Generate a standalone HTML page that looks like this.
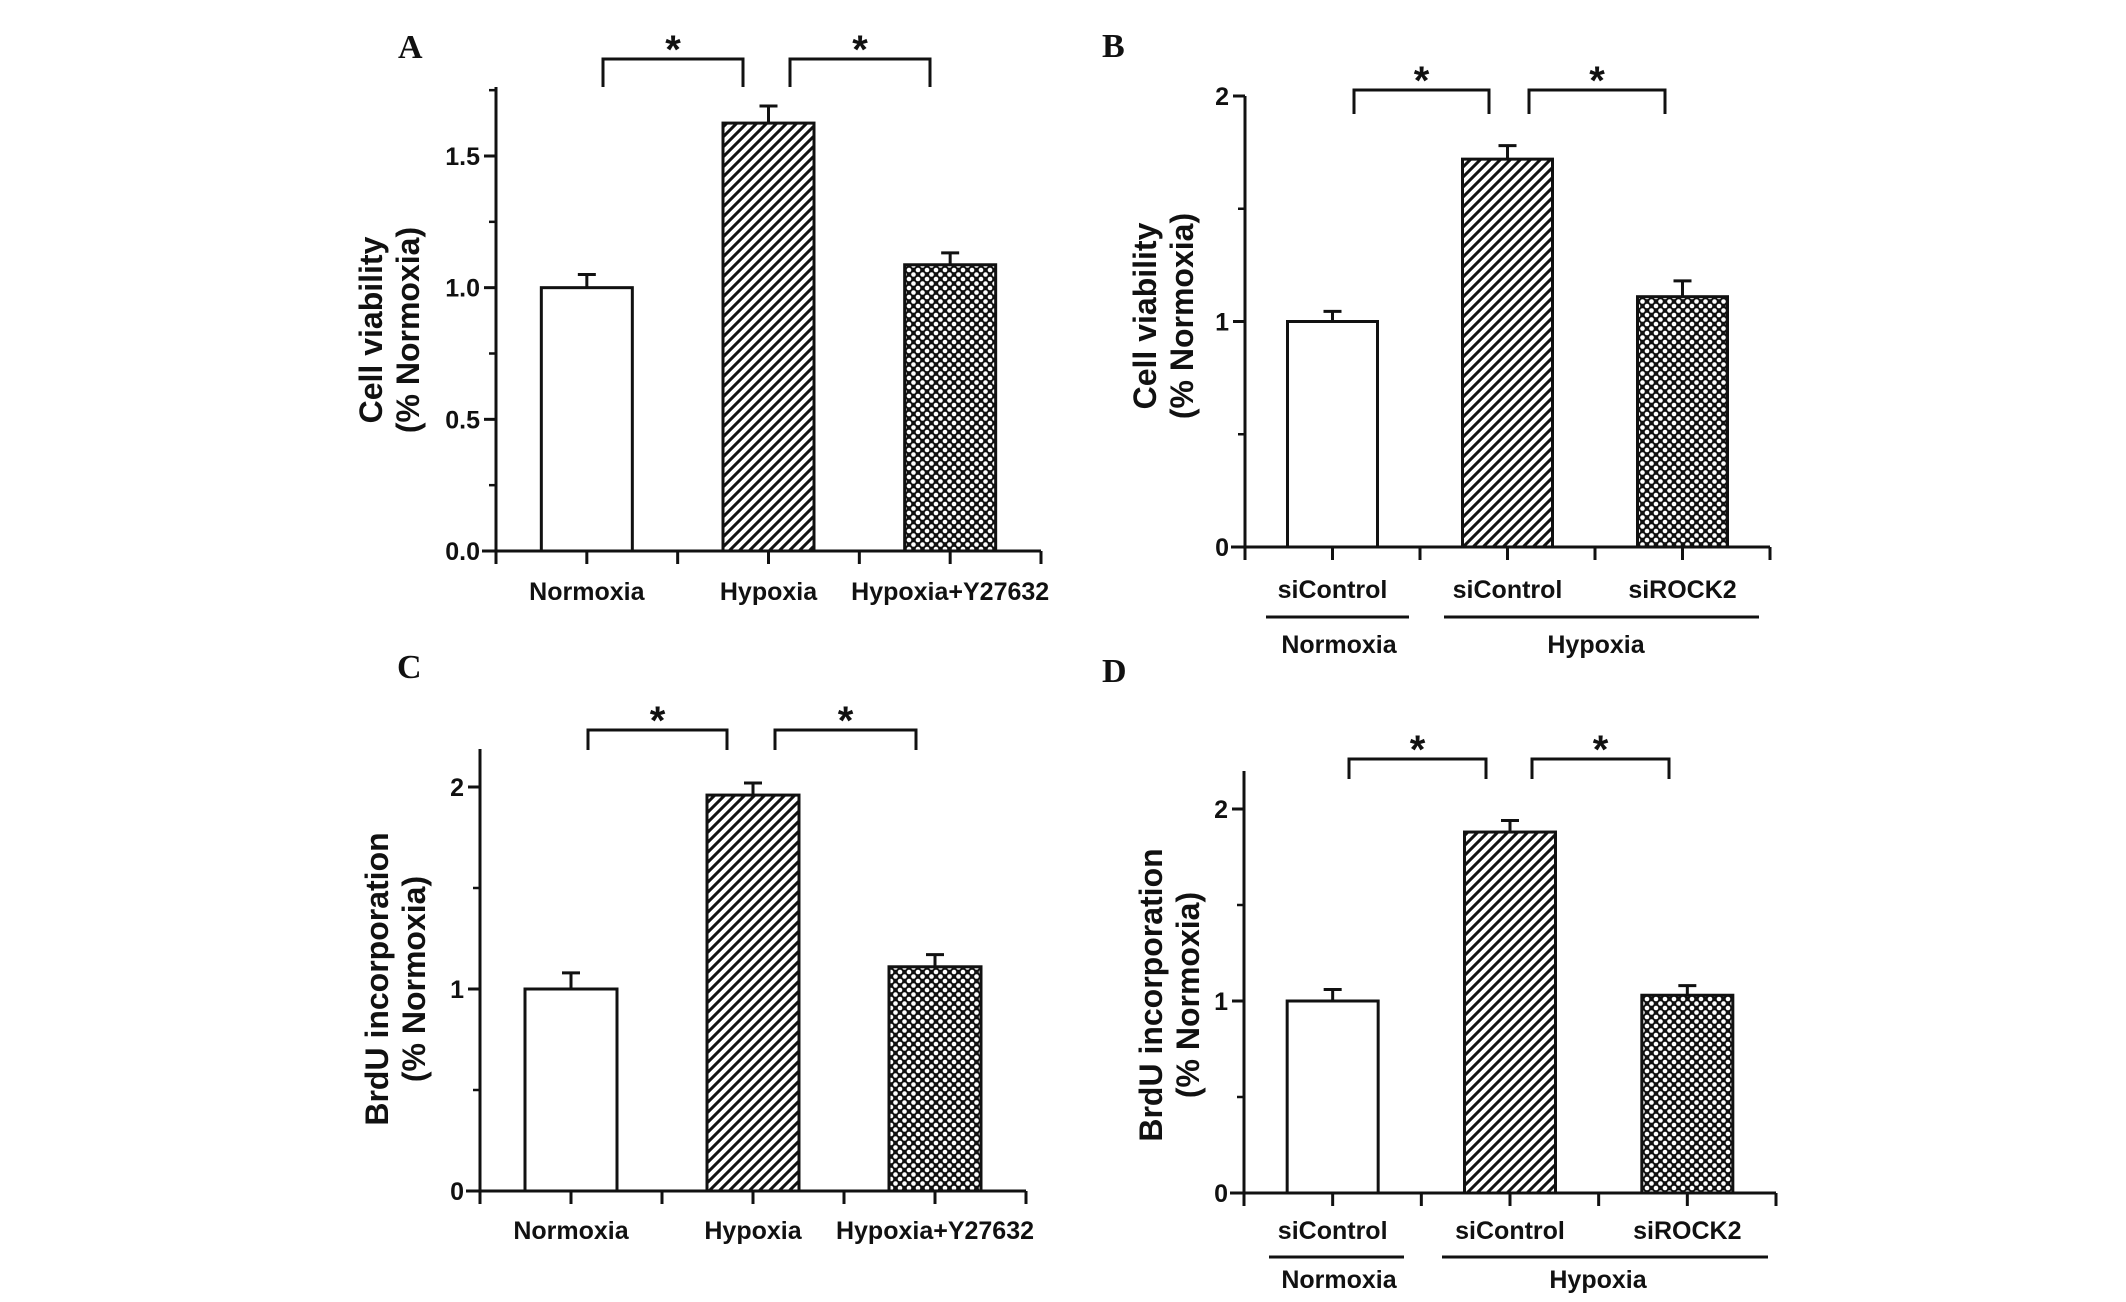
<!DOCTYPE html>
<html><head><meta charset="utf-8"><style>
html,body{margin:0;padding:0;background:#fff;}
svg{display:block;}
.tk{font-family:"Liberation Sans Narrow","Liberation Sans",sans-serif;font-weight:bold;font-size:25px;fill:#111;}
.yt{font-family:"Liberation Sans",sans-serif;font-weight:bold;font-size:32px;fill:#111;}
.ast{font-family:"Liberation Sans",sans-serif;font-weight:bold;font-size:40px;fill:#111;}
.pl{font-family:"Liberation Serif",serif;font-weight:bold;font-size:34px;fill:#111;}
</style></head><body>
<svg id="fig" width="2126" height="1302" viewBox="0 0 2126 1302" xmlns="http://www.w3.org/2000/svg">
<defs>
<pattern id="hatch" patternUnits="userSpaceOnUse" width="10" height="10">
<rect width="10" height="10" fill="#fff"/>
<path d="M-2,12 L12,-2 M-7,7 L7,-7 M3,17 L17,3" stroke="#111" stroke-width="3"/>
</pattern>
<pattern id="cross" patternUnits="userSpaceOnUse" width="9" height="9">
<rect width="9" height="9" fill="#111"/>
<circle cx="0" cy="0" r="2.3" fill="#fff"/><circle cx="9" cy="0" r="2.3" fill="#fff"/>
<circle cx="0" cy="9" r="2.3" fill="#fff"/><circle cx="9" cy="9" r="2.3" fill="#fff"/>
<circle cx="4.5" cy="4.5" r="2.3" fill="#fff"/>
</pattern>
</defs>
</svg>
<script>
// Data arrays
const valuesA = [1.0, 1.625, 1.087];
const errorsA = [0.05, 0.065, 0.045];
const valuesB = [1.0, 1.72, 1.11];
const errorsB = [0.045, 0.06, 0.07];
const valuesC = [1.0, 1.96, 1.11];
const errorsC = [0.08, 0.06, 0.06];
const valuesD = [1.0, 1.88, 1.03];
const errorsD = [0.06, 0.06, 0.05];
const categoriesAC = ["Normoxia", "Hypoxia", "Hypoxia+Y27632"];
const categoriesBD = ["siControl", "siControl", "siROCK2"];
const groupLabelsBD = ["Normoxia", "Hypoxia"];
const ticksA = [0, 0.5, 1.0, 1.5];
const tickLabelsA = ["0.0", "0.5", "1.0", "1.5"];
const ticksBCD = [0, 1, 2];
const tickLabelsBCD = ["0", "1", "2"];

const NS = "http://www.w3.org/2000/svg";
const svg = document.getElementById('fig');
function mk(tag, attrs, parent, text) {
  const e = document.createElementNS(NS, tag);
  for (const k in attrs) e.setAttribute(k, attrs[k]);
  if (text !== undefined) e.textContent = text;
  (parent || svg).appendChild(e);
  return e;
}
const fills = ["#fff", "url(#hatch)", "url(#cross)"];

function panel(cfg) {
  const g = mk('g', {});
  
  
  const y = v => cfg.y0 - (v - 0) / (cfg.yMaxVal) * (cfg.y0 - cfg.yMaxPx);
  const x0 = cfg.ax, x1 = cfg.axEnd, step = (x1 - x0) / 6;
  const xc = i => x0 + step * (2 * i + 1);
  const pl = mk('text', {x: cfg.letterX, y: cfg.letterY, class: 'pl'}, g, cfg.letter);
  
  
  cfg.values.forEach((v, i) => {
    const bw = cfg.barW;
    const r = mk('rect', {x: xc(i) - bw / 2, y: y(v), width: bw, height: cfg.y0 - y(v), fill: fills[i], stroke: '#111', 'stroke-width': 3}, g);
    
    
    const e = cfg.errors[i];
    const eb = mk('path', {d: `M${xc(i)},${y(v)} V${y(v + e)} M${xc(i) - 9},${y(v + e)} H${xc(i) + 9}`, stroke: '#111', 'stroke-width': 3, fill: 'none'}, g);
    
    
  });
  const axis = mk('path', {d: `M${x0},${cfg.axTop} V${cfg.y0} M${x0 - 14},${cfg.y0} H${x1}`, stroke: '#111', 'stroke-width': 3, fill: 'none'}, g);
  
  
  for (let k = 0; k <= 6; k++) {
    const xx = x0 + step * k;
    mk('line', {x1: xx, x2: xx, y1: cfg.y0, y2: cfg.y0 + 13, stroke: '#111', 'stroke-width': 3}, g);
  }
  cfg.ticks.forEach((t, i) => {
    mk('line', {x1: x0 - 12, x2: x0, y1: y(t), y2: y(t), stroke: '#111', 'stroke-width': 3}, g);
    const tl = mk('text', {x: x0 - 16, y: y(t) + 9, class: 'tk', 'text-anchor': 'end'}, g, cfg.tickLabels[i]);
    
    
    const m = t + cfg.minor;
    if (y(m) >= cfg.axTop) mk('line', {x1: x0 - 7, x2: x0, y1: y(m), y2: y(m), stroke: '#111', 'stroke-width': 2.5}, g);
  });
  cfg.categories.forEach((c, i) => {
    const t = mk('text', {x: xc(i), y: cfg.catY, class: 'tk', 'text-anchor': 'middle'}, g, c);
    
    
  });
  if (cfg.groups) {
    cfg.groupLines.forEach((l, i) => {
      mk('line', {x1: l[0], x2: l[1], y1: cfg.groupLineY, y2: cfg.groupLineY, stroke: '#111', 'stroke-width': 3}, g);
      const t = mk('text', {x: l[2], y: cfg.groupY, class: 'tk', 'text-anchor': 'middle'}, g, cfg.groups[i]);
      
      
    });
  }
  cfg.brackets.forEach(b => {
    const p = mk('path', {d: `M${b[0]},${cfg.brBot} V${cfg.brTop} H${b[1]} V${cfg.brBot}`, stroke: '#111', 'stroke-width': 3, fill: 'none'}, g);
    
    
    const s = mk('text', {x: (b[0] + b[1]) / 2, y: cfg.brTop + 4, class: 'ast', 'text-anchor': 'middle'}, g, '*');
    
    
  });
  const yt = mk('text', {class: 'yt', 'text-anchor': 'middle', transform: `translate(${cfg.titleX},${cfg.titleY}) rotate(-90)`}, g);
  
  
  mk('tspan', {x: 0, y: 0}, yt, cfg.title);
  mk('tspan', {x: 0, y: 37}, yt, '(% Normoxia)');
}

panel({name: 'panel-a', letter: 'A', letterX: 398, letterY: 58, values: valuesA, errors: errorsA,
  ticks: ticksA, tickLabels: tickLabelsA, minor: 0.25, yMaxVal: 1.5, y0: 551, yMaxPx: 156, axTop: 87,
  ax: 496, axEnd: 1041, barW: 91, categories: categoriesAC, catY: 600,
  brackets: [[603, 743], [790, 930]], brTop: 59, brBot: 87,
  title: 'Cell viability', titleX: 382, titleY: 330});
panel({name: 'panel-b', letter: 'B', letterX: 1102, letterY: 57, values: valuesB, errors: errorsB,
  ticks: ticksBCD, tickLabels: tickLabelsBCD, minor: 0.5, yMaxVal: 2, y0: 547, yMaxPx: 96, axTop: 96,
  ax: 1245, axEnd: 1770, barW: 90, categories: categoriesBD, catY: 598,
  groups: groupLabelsBD, groupLines: [[1266, 1409, 1339], [1444, 1759, 1596]], groupLineY: 617, groupY: 653,
  brackets: [[1354, 1489], [1529, 1665]], brTop: 90, brBot: 114,
  title: 'Cell viability', titleX: 1156, titleY: 316});
panel({name: 'panel-c', letter: 'C', letterX: 397, letterY: 678, values: valuesC, errors: errorsC,
  ticks: ticksBCD, tickLabels: tickLabelsBCD, minor: 0.5, yMaxVal: 2, y0: 1191, yMaxPx: 787, axTop: 749,
  ax: 480, axEnd: 1026, barW: 92, categories: categoriesAC, catY: 1239,
  brackets: [[588, 727], [775, 916]], brTop: 730, brBot: 750,
  title: 'BrdU incorporation', titleX: 388, titleY: 979});
panel({name: 'panel-d', letter: 'D', letterX: 1102, letterY: 682, values: valuesD, errors: errorsD,
  ticks: ticksBCD, tickLabels: tickLabelsBCD, minor: 0.5, yMaxVal: 2, y0: 1193, yMaxPx: 809, axTop: 771,
  ax: 1244, axEnd: 1776, barW: 91, categories: categoriesBD, catY: 1239,
  groups: groupLabelsBD, groupLines: [[1269, 1404, 1339], [1442, 1768, 1598]], groupLineY: 1257, groupY: 1288,
  brackets: [[1349, 1486], [1532, 1669]], brTop: 759, brBot: 779,
  title: 'BrdU incorporation', titleX: 1162, titleY: 995});
</script>
</body></html>
